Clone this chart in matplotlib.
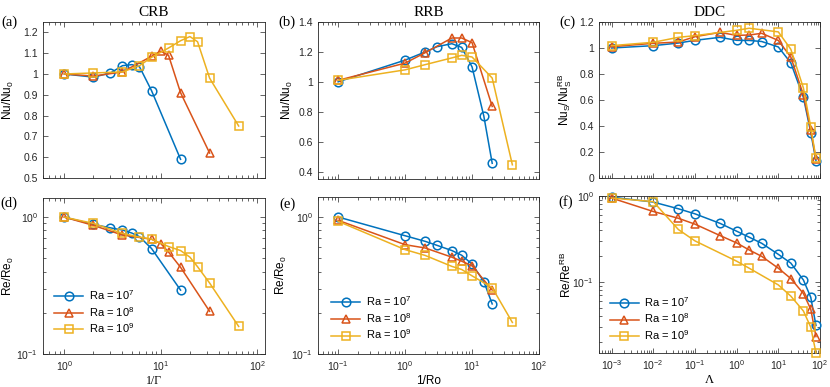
import numpy as np
import matplotlib
matplotlib.use('Agg')
import matplotlib.pyplot as plt
from matplotlib.ticker import FuncFormatter, NullFormatter, LogLocator

plt.rcParams['font.family'] = ['Liberation Sans', 'DejaVu Sans']
plt.rcParams['mathtext.default'] = 'regular'
plt.rcParams['axes.linewidth'] = 0.6

# CRB : x = 1/Gamma
crb_x7 = [1, 2, 3, 4, 5, 6, 8, 16]
crb_nu7 = [1.0, 0.985, 1.005, 1.04, 1.045, 1.035, 0.92, 0.59]
crb_re7 = [1.0, 0.885, 0.835, 0.805, 0.765, 0.72, 0.59, 0.293]
crb_x8 = [1, 2, 4, 8, 10, 12, 16, 32]
crb_nu8 = [1.0, 0.99, 1.01, 1.085, 1.11, 1.09, 0.91, 0.62]
crb_re8 = [1.0, 0.87, 0.74, 0.69, 0.64, 0.556, 0.43, 0.205]
crb_x9 = [1, 2, 4, 6, 8, 12, 16, 20, 24, 32, 64]
crb_nu9 = [1.0, 1.005, 1.01, 1.04, 1.08, 1.125, 1.16, 1.18, 1.155, 0.98, 0.75]
crb_re9 = [1.0, 0.90, 0.76, 0.715, 0.69, 0.61, 0.57, 0.51, 0.434, 0.33, 0.159]

# RRB : x = 1/Ro
rrb_x7 = [0.1, 1, 2, 3, 5, 7, 10, 15, 20]
rrb_nu7 = [1.0, 1.145, 1.2, 1.235, 1.255, 1.23, 1.1, 0.77, 0.455]
rrb_re7 = [1.0, 0.73, 0.664, 0.621, 0.569, 0.526, 0.453, 0.338, 0.232]
rrb_x8 = [0.1, 1, 2, 5, 7, 10, 20]
rrb_nu8 = [1.01, 1.125, 1.195, 1.293, 1.293, 1.262, 0.835]
rrb_re8 = [0.946, 0.628, 0.594, 0.509, 0.476, 0.44, 0.293]
rrb_x9 = [0.1, 1, 2, 5, 7, 10, 20, 40]
rrb_nu9 = [1.01, 1.08, 1.115, 1.16, 1.177, 1.166, 1.025, 0.445]
rrb_re9 = [0.93, 0.578, 0.524, 0.436, 0.414, 0.372, 0.305, 0.17]

# DDC : x = Lambda
ddc_x7 = [0.001, 0.01, 0.04, 0.1, 0.4, 1, 2, 4, 10, 20, 40, 60, 80]
ddc_nu7 = [1.0, 1.018, 1.038, 1.059, 1.082, 1.059, 1.058, 1.05, 1.008, 0.885, 0.62, 0.35, 0.133]
ddc_re7 = [0.97, 0.85, 0.71, 0.62, 0.48, 0.389, 0.331, 0.281, 0.209, 0.165, 0.105, 0.066, 0.031]
ddc_x8 = [0.001, 0.01, 0.04, 0.1, 0.4, 1, 2, 4, 10, 20, 40, 60, 80]
ddc_nu8 = [1.01, 1.036, 1.046, 1.087, 1.12, 1.097, 1.1, 1.113, 1.058, 0.93, 0.638, 0.37, 0.146]
ddc_re8 = [0.947, 0.66, 0.55, 0.47, 0.346, 0.284, 0.235, 0.198, 0.144, 0.109, 0.073, 0.048, 0.023]
ddc_x9 = [0.001, 0.01, 0.04, 0.1, 1, 2, 10, 20, 40, 60, 80]
ddc_nu9 = [1.018, 1.044, 1.082, 1.095, 1.136, 1.152, 1.124, 0.99, 0.692, 0.392, 0.152]
ddc_re9 = [0.947, 0.86, 0.407, 0.30, 0.174, 0.144, 0.092, 0.068, 0.0457, 0.0296, 0.0148]

labels = ['Ra = 10$^7$', 'Ra = 10$^8$', 'Ra = 10$^9$']
colors = ['#0072BD', '#D95319', '#EDB120']
markers = ['o', '^', 's']
msizes = [6.2, 6.2, 5.6]

W, H = 830, 387
fig = plt.figure(figsize=(W / 100, H / 100), dpi=100)


def box(l, t, r, b):
    return [l / W, 1 - b / H, (r - l) / W, (b - t) / H]


ax_a = fig.add_axes(box(43, 22, 265, 178))
ax_d = fig.add_axes(box(43, 198, 265, 354))
ax_b = fig.add_axes(box(318, 22, 539, 179))
ax_e = fig.add_axes(box(318, 197, 539, 354))
ax_c = fig.add_axes(box(599, 22, 820, 178))
ax_f = fig.add_axes(box(599, 196, 820, 353))


def draw(ax, xs, ys):
    for i in range(3):
        ax.plot(xs[i], ys[i], color=colors[i], marker=markers[i], ms=msizes[i],
                mfc='none', mew=1.1, lw=1.1, label=labels[i], clip_on=False, zorder=3 + i)


draw(ax_a, [crb_x7, crb_x8, crb_x9], [crb_nu7, crb_nu8, crb_nu9])
draw(ax_d, [crb_x7, crb_x8, crb_x9], [crb_re7, crb_re8, crb_re9])
draw(ax_b, [rrb_x7, rrb_x8, rrb_x9], [rrb_nu7, rrb_nu8, rrb_nu9])
draw(ax_e, [rrb_x7, rrb_x8, rrb_x9], [rrb_re7, rrb_re8, rrb_re9])
draw(ax_c, [ddc_x7, ddc_x8, ddc_x9], [ddc_nu7, ddc_nu8, ddc_nu9])
draw(ax_f, [ddc_x7, ddc_x8, ddc_x9], [ddc_re7, ddc_re8, ddc_re9])

gfmt = FuncFormatter(lambda v, p: '%g' % v)

for ax in [ax_a, ax_b, ax_c, ax_d, ax_e, ax_f]:
    ax.set_xscale('log')
    ax.tick_params(which='both', direction='in', top=True, right=True,
                   labelsize=7.5, colors='#262626', width=0.5)
    ax.tick_params(which='major', length=3.5)
    ax.tick_params(which='minor', length=2)
    ax.xaxis.set_minor_formatter(NullFormatter())
    for s in ax.spines.values():
        s.set_color('#262626')

for ax in [ax_d, ax_e, ax_f]:
    ax.set_yscale('log')
    ax.yaxis.set_minor_formatter(NullFormatter())

ax_a.set_xlim(0.6, 120)
ax_d.set_xlim(0.6, 120)
ax_b.set_xlim(0.05, 100)
ax_e.set_xlim(0.05, 100)
ax_c.set_xlim(5e-4, 100)
ax_f.set_xlim(5e-4, 100)
for ax in [ax_c, ax_f]:
    ax.xaxis.set_major_locator(LogLocator(base=10, numticks=15))
    ax.xaxis.set_minor_locator(LogLocator(base=10, subs=np.arange(2, 10), numticks=15))

ax_a.set_ylim(0.5, 1.25)
ax_a.set_yticks([0.5, 0.6, 0.7, 0.8, 0.9, 1.0, 1.1, 1.2])
ax_b.set_ylim(0.35, 1.4)
ax_b.set_yticks([0.4, 0.6, 0.8, 1.0, 1.2, 1.4])
ax_c.set_ylim(0, 1.2)
ax_c.set_yticks([0, 0.2, 0.4, 0.6, 0.8, 1.0, 1.2])
for ax in [ax_a, ax_b, ax_c]:
    ax.yaxis.set_major_formatter(gfmt)
    ax.tick_params(axis='x', labelbottom=False)

ax_d.set_ylim(0.1, 1.38)
ax_e.set_ylim(0.1, 1.4)
ax_f.set_ylim(0.0148, 1.0)

# y labels
ax_a.set_ylabel('Nu/Nu$_0$', fontsize=8.5)
ax_b.set_ylabel('Nu/Nu$_0$', fontsize=8.5)
ax_c.set_ylabel('Nu$_S$/Nu$_S^{RB}$', fontsize=8.5)
ax_d.set_ylabel('Re/Re$_0$', fontsize=8.5)
ax_e.set_ylabel('Re/Re$_0$', fontsize=8.5)
ax_f.set_ylabel('Re/Re$^{RB}$', fontsize=8.5)
ax_a.yaxis.set_label_coords(-0.12, 0.5)
ax_d.yaxis.set_label_coords(-0.12, 0.5)
ax_b.yaxis.set_label_coords(-0.104, 0.5)
ax_e.yaxis.set_label_coords(-0.13, 0.5)
ax_c.yaxis.set_label_coords(-0.113, 0.5)
ax_f.yaxis.set_label_coords(-0.113, 0.5)

# x labels
ax_d.set_xlabel('1/Γ', fontsize=8.5, family='Liberation Serif')
ax_e.set_xlabel('1/Ro', fontsize=8.5)
ax_f.set_xlabel('Λ', fontsize=9, family='Liberation Serif')
for ax in [ax_d, ax_e, ax_f]:
    ax.xaxis.set_label_coords(0.5, -0.135)

# titles
for ax, t in [(ax_a, 'CRB'), (ax_b, 'RRB'), (ax_c, 'DDC')]:
    ax.set_title(t, fontsize=11, family='Liberation Serif', pad=4)

# panel letters
for x, y, s in [(9, 22, '(a)'), (287, 22, '(b)'), (567, 22, '(c)'),
                (9, 203, '(d)'), (287, 204, '(e)'), (566, 202, '(f)')]:
    fig.text(x / W, 1 - y / H, s, fontsize=10.5, family='Liberation Serif',
             ha='center', va='center')

for ax, anc in [(ax_d, (0.05, 0.12)), (ax_e, (0.06, 0.08)), (ax_f, (0.05, 0.07))]:
    ax.legend(loc='lower left', bbox_to_anchor=anc, frameon=False, fontsize=8,
              handlelength=2.6, labelspacing=0.25, borderaxespad=0, borderpad=0,
              handletextpad=0.5)

fig.savefig('out.png', dpi=100)
